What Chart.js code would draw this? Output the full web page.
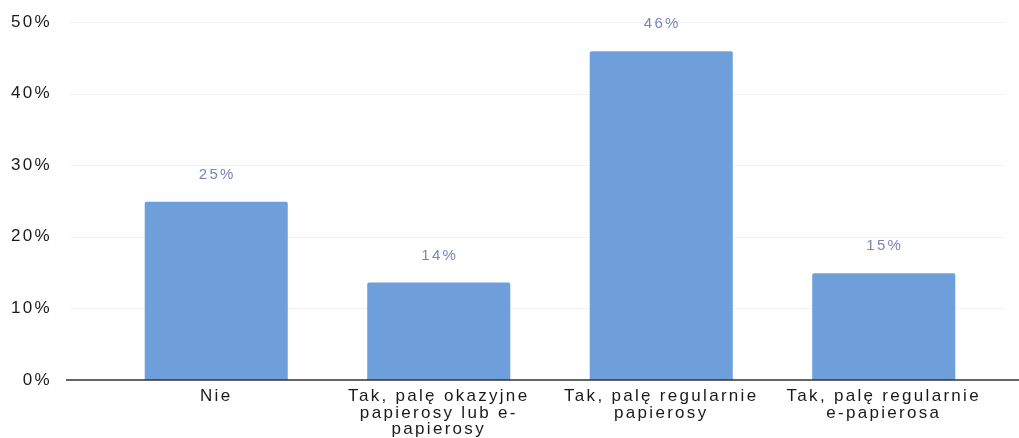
<!DOCTYPE html>
<html>
<head>
<meta charset="utf-8">
<script src="https://cdn.jsdelivr.net/npm/chart.js@4"></script>
<style>
    html, body { margin: 0; padding: 0; background: #fff; }
    #wrap { width: 1019px; height: 438px; }
</style>
</head>
<body>
<div id="wrap"><canvas id="smokingChart"></canvas></div>
<script>
// Dane
const categories = [
    'Nie',
    ['Tak, palę okazyjne', 'papierosy lub e-', 'papierosy'],
    ['Tak, palę regularnie', 'papierosy'],
    ['Tak, palę regularnie', 'e-papierosa']
];
const shares = [24.9, 13.6, 45.9, 14.9];
const yTicks = [0, 10, 20, 30, 40, 50];

const barColor = '#6e9fdb';

// lekko rozciągnięty tekst, jak na skanie
const spacingPlugin = {
    id: 'spacing',
    beforeDraw(chart) {
        chart.ctx.letterSpacing = '2.3px';
    }
};

// linia bazowa i delikatna siatka szersze niż obszar słupków
const axisPlugin = {
    id: 'axisLines',
    beforeDatasetsDraw(chart) {
        const y = chart.scales.y;
        const ctx = chart.ctx;
        ctx.save();
        ctx.strokeStyle = 'rgba(0,0,0,0.05)';
        ctx.lineWidth = 1;
        yTicks.slice(1).forEach(t => {
            const py = Math.round(y.getPixelForValue(t)) + 0.5;
            ctx.beginPath();
            ctx.moveTo(70, py);
            ctx.lineTo(1005, py);
            ctx.stroke();
        });
        ctx.restore();
    },
    afterDatasetsDraw(chart) {
        const y = chart.scales.y;
        const ctx = chart.ctx;
        const py = y.getPixelForValue(0);
        ctx.save();
        ctx.strokeStyle = '#333';
        ctx.lineWidth = 1.6;
        ctx.beginPath();
        ctx.moveTo(66, py);
        ctx.lineTo(1019, py);
        ctx.stroke();
        ctx.restore();
    }
};

// etykiety wartości nad słupkami
const valueLabels = {
    id: 'valueLabels',
    afterDatasetsDraw(chart) {
        const ctx = chart.ctx;
        const meta = chart.getDatasetMeta(0);
        ctx.save();
        ctx.font = '15px "Liberation Sans", Arial, sans-serif';
        ctx.fillStyle = '#7a84b6';
        ctx.textAlign = 'center';
        ctx.textBaseline = 'middle';
        meta.data.forEach((bar, i) => {
            ctx.fillText(Math.round(shares[i]) + '%', bar.x + 1, bar.y - 27);
        });
        ctx.restore();
    }
};

const ctx = document.getElementById('smokingChart').getContext('2d');
const smokingChart = new Chart(ctx, {
    type: 'bar',
    data: {
        labels: categories,
        datasets: [{
            data: shares,
            backgroundColor: barColor,
            borderRadius: 2,
            borderSkipped: 'bottom',
            barPercentage: 0.643,
            categoryPercentage: 1
        }]
    },
    options: {
        responsive: true,
        maintainAspectRatio: false,
        animation: false,
        layout: { padding: { top: 22, right: 24, left: 0, bottom: 0 } },
        plugins: {
            legend: { display: false },
            tooltip: { enabled: false }
        },
        scales: {
            x: {
                grid: { display: false, drawTicks: false },
                border: { display: false },
                afterFit: s => { s.height = 58; },
                ticks: {
                    autoSkip: false,
                    maxRotation: 0,
                    padding: 8,
                    color: '#1a1a1a',
                    font: { family: '"Liberation Sans", Arial, sans-serif', size: 17, lineHeight: 0.98 }
                }
            },
            y: {
                min: 0,
                max: 50,
                grid: { display: false, drawTicks: false },
                border: { display: false },
                afterFit: s => {
                    s.width = 105;
                    s.paddingTop = 9;
                    s.paddingBottom = 9;
                },
                afterBuildTicks: s => { s.ticks = yTicks.map(v => ({ value: v })); },
                ticks: {
                    padding: 53,
                    color: '#1a1a1a',
                    font: { family: '"Liberation Sans", Arial, sans-serif', size: 17 },
                    callback: v => v + '%'
                }
            }
        }
    },
    plugins: [spacingPlugin, axisPlugin, valueLabels]
});
</script>
</body>
</html>
